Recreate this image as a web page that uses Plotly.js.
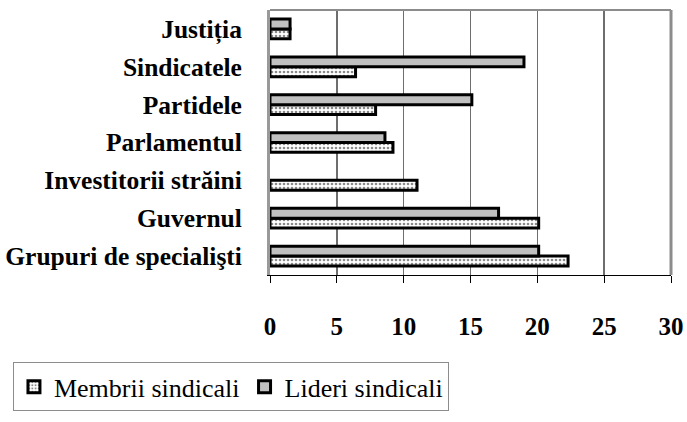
<!DOCTYPE html>
<html>
<head>
<meta charset="utf-8">
<script src="https://cdn.plot.ly/plotly-3.0.1.min.js"></script>
<style>html,body{margin:0;padding:0;background:#fff;}#chart{width:687px;height:422px;}</style>
</head>
<body>
<div id="chart"></div>
<script>
const categories = ["Grupuri de specialişti", "Guvernul", "Investitorii străini", "Parlamentul", "Partidele", "Sindicatele", "Justiția"];
const membriSindicali = [22.3, 20.1, 11.0, 9.2, 7.9, 6.4, 1.5];
const lideriSindicali = [20.1, 17.1, null, 8.6, 15.1, 19.0, 1.5];
const seriesNames = ["Membrii sindicali", "Lideri sindicali"];
const xTicks = [0, 5, 10, 15, 20, 25, 30];

const traces = [
  {
    type: "bar", orientation: "h", name: seriesNames[0],
    y: categories, x: membriSindicali,
    marker: {
      color: "#ffffff",
      pattern: {shape: ".", fgcolor: "#8a8a8a", bgcolor: "#ffffff", size: 4, solidity: 0.35},
      line: {color: "#000", width: 3}
    },
    hoverinfo: "x+name"
  },
  {
    type: "bar", orientation: "h", name: seriesNames[1],
    y: categories, x: lideriSindicali,
    marker: {color: "#c0c0c0", line: {color: "#000", width: 3}},
    hoverinfo: "x+name"
  }
];

const layout = {
  width: 687, height: 422,
  margin: {l: 270, r: 16, t: 10, b: 139},
  paper_bgcolor: "#fff", plot_bgcolor: "#fff",
  barmode: "group", bargap: 0.48, bargroupgap: 0,
  font: {family: "Liberation Serif", color: "#000"},
  xaxis: {
    range: [0, 30], tickvals: xTicks, ticktext: xTicks.map(String),
    showgrid: true, gridcolor: "#6e6e6e", gridwidth: 1.5,
    zeroline: false, showline: true, linecolor: "#000", linewidth: 1,
    ticks: "outside", ticklen: 7, tickcolor: "#000", tickwidth: 1,
    ticklabelstandoff: 22,
    tickfont: {family: "Liberation Serif", size: 25, color: "#000", weight: "bold"},
    fixedrange: true
  },
  yaxis: {
    categoryorder: "array", categoryarray: categories,
    showgrid: false, zeroline: false, showline: true, linecolor: "#999", linewidth: 3,
    ticks: "", ticklabelstandoff: 20,
    tickfont: {family: "Liberation Serif", size: 25.5, color: "#000", weight: "bold"},
    fixedrange: true
  },
  shapes: [
    {type: "line", xref: "paper", yref: "paper", x0: 0, x1: 1, y0: 1, y1: 1, line: {color: "#8c8c8c", width: 2}},
    {type: "line", xref: "paper", yref: "paper", x0: 1, x1: 1, y0: 0, y1: 1, line: {color: "#8c8c8c", width: 3}}
  ],
  showlegend: true,
  legend: {
    orientation: "h", x: -0.641, xanchor: "left", y: -0.33, yanchor: "top",
    bordercolor: "#8c8c8c", borderwidth: 1, bgcolor: "#fff",
    font: {family: "Liberation Serif", size: 26, color: "#000"},
    traceorder: "normal", itemwidth: 30
  }
};

Plotly.newPlot("chart", traces, layout, {displayModeBar: false, staticPlot: true});
</script>
</body>
</html>
